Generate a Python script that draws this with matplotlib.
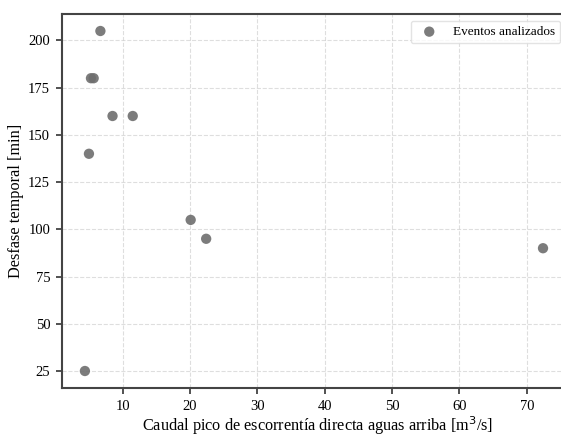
import matplotlib.pyplot as plt

# eventos: caudal pico aguas arriba [m3/s] vs desfase temporal [min]
caudal_pico = [6.7, 5.3, 5.7, 8.5, 11.5, 5.0, 20.1, 22.4, 72.4, 4.4]
desfase_min = [205, 180, 180, 160, 160, 140, 105, 95, 90, 25]

plt.rcParams['font.family'] = ['Liberation Serif', 'DejaVu Serif']

fig = plt.figure(figsize=(5.61, 4.36), dpi=100)
# the original was cropped just inside the right spine
ax = fig.add_axes([62 / 561, 48 / 436, 512 / 561, 374 / 436])

ax.scatter(caudal_pico, desfase_min, s=55, color='#6e6e6e', alpha=0.9,
           edgecolors='none', label='Eventos analizados', zorder=3)

ax.set_xlim(1.0, 77.0)
ax.set_xlabel('Caudal pico de escorrentía directa aguas arriba [m$^3$/s]',
              fontsize=11.7, labelpad=1)
ax.set_ylabel('Desfase temporal [min]', fontsize=11.7, labelpad=3)
ax.set_yticks([25, 50, 75, 100, 125, 150, 175, 200])
ax.set_xticks([10, 20, 30, 40, 50, 60, 70])
ax.tick_params(labelsize=10.5, direction='out', length=4.5, width=1.2,
               color='#333333', pad=4)

ax.grid(True, linestyle='--', color='#d0d0d0', linewidth=0.8, alpha=0.7)
ax.set_axisbelow(True)
for sp in ax.spines.values():
    sp.set_color('#444444')
    sp.set_linewidth(1.5)

ax.legend(loc='upper right', fontsize=9.5, frameon=True, edgecolor='#dddddd',
          bbox_to_anchor=((567 - 62) / 512, 1.0))

fig.savefig('out.png', dpi=100)
